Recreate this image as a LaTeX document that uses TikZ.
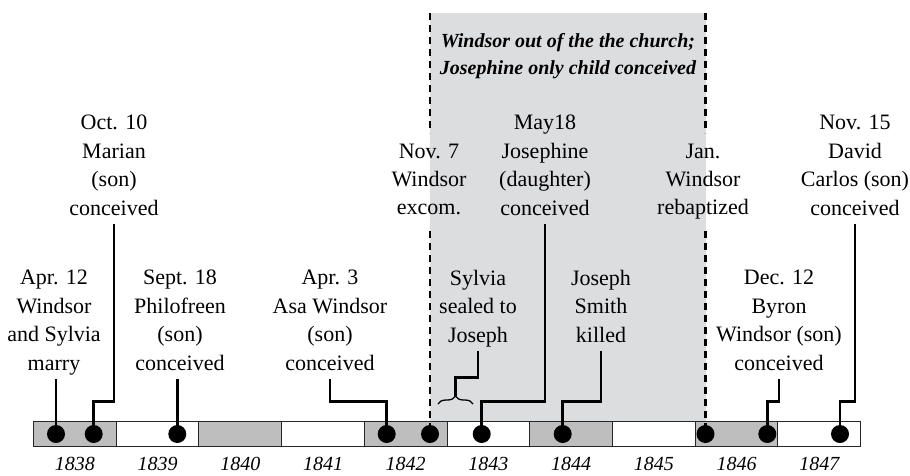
\documentclass[tikz,border=0pt]{standalone}
\usepackage{fontspec}
\setmainfont{LiberationSerif}[Extension=.ttf, UprightFont=*-Regular, BoldFont=*-Bold, ItalicFont=*-Italic, BoldItalicFont=*-BoldItalic]
\usetikzlibrary{decorations.pathreplacing}
\definecolor{barg}{RGB}{190,190,190}
\definecolor{bgshade}{RGB}{220,221,223}
\begin{document}
\begin{tikzpicture}[x=1pt,y=-1pt,
  lab/.style={align=center, anchor=north, inner sep=0pt,
    font=\fontsize{22}{28.4}\selectfont,
    execute at begin node=\strut, execute at end node=\strut},
  hdr/.style={align=center, anchor=north, inner sep=0pt,
    font=\fontsize{20}{26.5}\selectfont\bfseries\itshape,
    execute at begin node=\strut},
  conn/.style={line width=2.6pt},
  dashln/.style={line width=2.4pt, dash pattern=on 7pt off 5pt},
  dot/.style={circle, fill=black, minimum size=18pt, inner sep=0pt},
  cell/.style={draw=black!85, line width=1pt, minimum width=82.72pt,
    minimum height=25pt, inner sep=0pt},
  yearlab/.style={anchor=base, inner sep=0pt,
    font=\fontsize{20}{24}\selectfont\itshape},
  bracest/.style={decorate, decoration={brace, amplitude=8pt}, line width=1.3pt}]
\useasboundingbox (0,0) rectangle (910,475);

% shaded period
\fill[bgshade] (430,13) rectangle (705.5,421.5);

% year cells
\foreach \yr/\fc [count=\k from 0] in {1838/barg,1839/white,1840/barg,1841/white,1842/barg,1843/white,1844/barg,1845/white,1846/barg,1847/white}{
  \node[cell, fill=\fc] (c\yr) at ({33.5+82.72*(\k+0.5)},434) {};
  \node[yearlab] (t\yr) at ({33.5+82.72*(\k+0.5)},470) {\yr};
}

% header
\node[hdr] (H) at (568,33.4) {Windsor out of the the church;\\Josephine only child conceived};

% labels
\node[lab] (L1) at (54,270.1) {Apr. 12\\Windsor\\and Sylvia\\marry};
\node[lab] (L2) at (114,115.1) {Oct. 10\\Marian\\(son)\\conceived};
\node[lab] (L3) at (180,270.1) {Sept. 18\\Philofreen\\(son)\\conceived};
\node[lab] (L4) at (330,270.1) {Apr. 3\\Asa Windsor\\(son)\\conceived};
\node[lab] (L5) at (429,143.5) {Nov. 7\\Windsor\\excom.};
\node[lab] (L6) at (478,270.1) {Sylvia\\sealed to\\Joseph};
\node[lab] (L7) at (545,115.1) {May18\\Josephine\\(daughter)\\conceived};
\node[lab] (L8) at (601,270.1) {Joseph\\Smith\\killed};
\node[lab] (L9) at (703,143.5) {Jan.\\Windsor\\rebaptized};
\node[lab] (L10) at (779,270.1) {Dec. 12\\Byron\\Windsor (son)\\conceived};
\node[lab] (L11) at (855,115.1) {Nov. 15\\David\\Carlos (son)\\conceived};

% dots
\node[dot] (d1) at (56,434) {};
\node[dot] (d2) at (93.7,434) {};
\node[dot] (d3) at (177.3,434) {};
\node[dot] (d4) at (386.7,434) {};
\node[dot] (d5) at (430,434) {};
\node[dot] (d6) at (481.7,434) {};
\node[dot] (d7) at (562.7,434) {};
\node[dot] (d8) at (705.5,434) {};
\node[dot] (d9) at (767.3,434) {};
\node[dot] (d10) at (840,434) {};

% dashed boundaries
\coordinate (a1) at (430,13);
\coordinate (a2) at (430,133);
\coordinate (a3) at (430,231);
\coordinate (b1) at (705.5,13);
\coordinate (b2) at (705.5,133);
\coordinate (b3) at (705.5,231);
\draw[dashln] (a1) -- (a2);
\draw[dashln] (a3) -- (d5.center);
\draw[dashln] (b1) -- (b2);
\draw[dashln] (b3) -- (d8.center);

% brace
\coordinate (brL) at (438,404);
\coordinate (brR) at (473,404);
\coordinate (bracetip) at (455.5,396);
\draw[bracest] (brL) -- (brR);

% connectors
\draw[conn] (d1.center) -- (d1.center |- L1.south);
\draw[conn] (d2.center) -- ++(0,-32.3) -| (L2.south);
\draw[conn] (d3.center) -- (d3.center |- L3.south);
\draw[conn] (d4.center) -- ++(0,-32.3) -| (L4.south);
\draw[conn] (d6.center) -- ++(0,-32.3) -| (L7.south);
\draw[conn] (L6.south) -- ++(0,26.2) -| (bracetip);
\draw[conn] (d7.center) -- ++(0,-32.3) -| (L8.south);
\draw[conn] (d9.center) -- ++(0,-32.3) -| (L10.south);
\draw[conn] (d10.center) -- ++(0,-32.3) -| (L11.south);
\end{tikzpicture}
\end{document}
